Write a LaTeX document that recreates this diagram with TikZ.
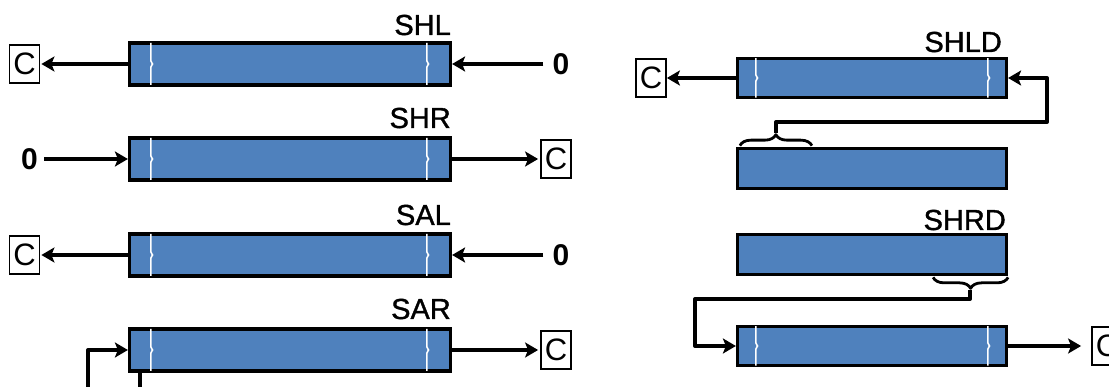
\documentclass[tikz,border=0pt]{standalone}
\usepackage{fontspec}
\setmainfont{Liberation Sans}
\newfontfamily\lblfont[FakeBold=1.2]{Liberation Sans}
\usetikzlibrary{arrows.meta,decorations.pathreplacing,calc}

\definecolor{regblue}{HTML}{4F81BD}

% white bit-boundary line inside a register, with a small jog at mid height
\newcommand{\tickline}[2]{%
  \draw[tick] ($(#1.north west)+(#2,1.6)$) -- ($(#1.west)+(#2,-3)$)
    -- ($(#1.west)+(#2+1.6,0)$) -- ($(#1.west)+(#2,3)$)
    -- ($(#1.south west)+(#2,-1.6)$);}

\begin{document}
\begin{tikzpicture}[x=1pt,y=-1pt,
  reg/.style={draw=black, fill=regblue, line width=3.2pt, inner sep=0pt,
    minimum width=321pt, minimum height=42pt},
  regR/.style={reg, minimum width=269pt, minimum height=39.5pt},
  cbox/.style={draw=black, line width=1.8pt, fill=white, inner sep=0pt,
    minimum width=30pt, minimum height=38pt, font=\fontsize{31}{31}\selectfont},
  zero/.style={inner sep=0pt, font=\fontsize{30}{30}\selectfont\bfseries},
  lbl/.style={inner sep=0pt, anchor=base east, font=\lblfont\fontsize{29}{29}\selectfont},
  tick/.style={draw=white, line width=1.6pt},
  arr/.style={line width=4pt, line join=round,
    -{Stealth[length=13pt,width=15pt,inset=3pt]}},
  wire/.style={line width=4pt},
  brc/.style={draw=black, line width=2.8pt, line join=round, decorate,
    decoration={brace, amplitude=11pt}}]

\path[use as bounding box] (0,0) rectangle (1109,387);
\clip (0,0) rectangle (1109,387);

% ---------- left column: SHL, SHR, SAL, SAR ----------
\node[reg] (shl) at (290,64) {};
\node[reg] (shr) at (290,159) {};
\node[reg] (sal) at (290,255) {};
\node[reg] (sar) at (290,350) {};
\foreach \r in {shl,shr,sal,sar}{\tickline{\r}{23}\tickline{\r}{299}}

\node[lbl] (lshl) at (451,35) {SHL};
\node[lbl] (lshr) at (451,128) {SHR};
\node[lbl] (lsal) at (451,225) {SAL};
\node[lbl] (lsar) at (451,319) {SAR};

% SHL
\node[cbox] (c1) at (24.5,64) {C};
\node[zero] (z1) at (561,64) {0};
\draw[arr, shorten >=1pt] (shl.west) -- (c1.east);
\draw[arr] ([xshift=-9pt]z1.west) -- (shl.east);

% SHR
\node[zero] (z2) at (29.5,159) {0};
\node[cbox] (c2) at (556,159) {C};
\draw[arr] ([xshift=6pt]z2.east) -- (shr.west);
\draw[arr, shorten >=2pt] (shr.east) -- (c2.west);

% SAL
\node[cbox] (c3) at (24.5,255) {C};
\node[zero] (z3) at (561,255) {0};
\draw[arr, shorten >=1pt] (sal.west) -- (c3.east);
\draw[arr] ([xshift=-9pt]z3.west) -- (sal.east);

% SAR: sign bit fed back into the top position
\node[cbox] (c4) at (556,350) {C};
\draw[arr, shorten >=2pt] (sar.east) -- (c4.west);
\coordinate (sarin) at (88,395);
\coordinate (sarout) at (140,395);
\draw[arr] (sarin) |- (sar.west);
\draw[wire] (sar.south -| sarout) -- (sarout);

% ---------- right column: SHLD, SHRD ----------
\node[regR] (d1) at (872,78) {};
\node[regR] (d2) at (872,168.5) {};
\node[regR] (d3) at (872,254.5) {};
\node[regR] (d4) at (872,346) {};
\foreach \r in {d1,d4}{\tickline{\r}{20}\tickline{\r}{252}}

\node[lbl] (lshld) at (1002,52) {SHLD};
\node[lbl] (lshrd) at (1006,230) {SHRD};

% SHLD
\node[cbox] (c5) at (651,78) {C};
\draw[arr] (d1.west) -- (c5.east);
\draw[brc] ($(d2.north west)+(4,-1.5)$) -- ($(d2.north west)+(76,-1.5)$);
\coordinate (t1) at (776,133);
\coordinate (k1) at (1047,122);
\draw[arr] (t1) -- (t1 |- k1) -- (k1) -- (k1 |- d1.east) -- (d1.east);

% SHRD
\node[cbox] (c6) at (1107,346) {C};
\draw[arr, shorten >=10pt] (d4.east) -- (c6.west);
\draw[brc] ($(d3.south east)+(0,1.5)$) -- ($(d3.south east)+(-75,1.5)$);
\coordinate (t2) at (970,290);
\coordinate (k2) at (695,299);
\draw[arr] (t2) -- (t2 |- k2) -- (k2) -- (k2 |- d4.west) -- (d4.west);

\end{tikzpicture}
\end{document}
